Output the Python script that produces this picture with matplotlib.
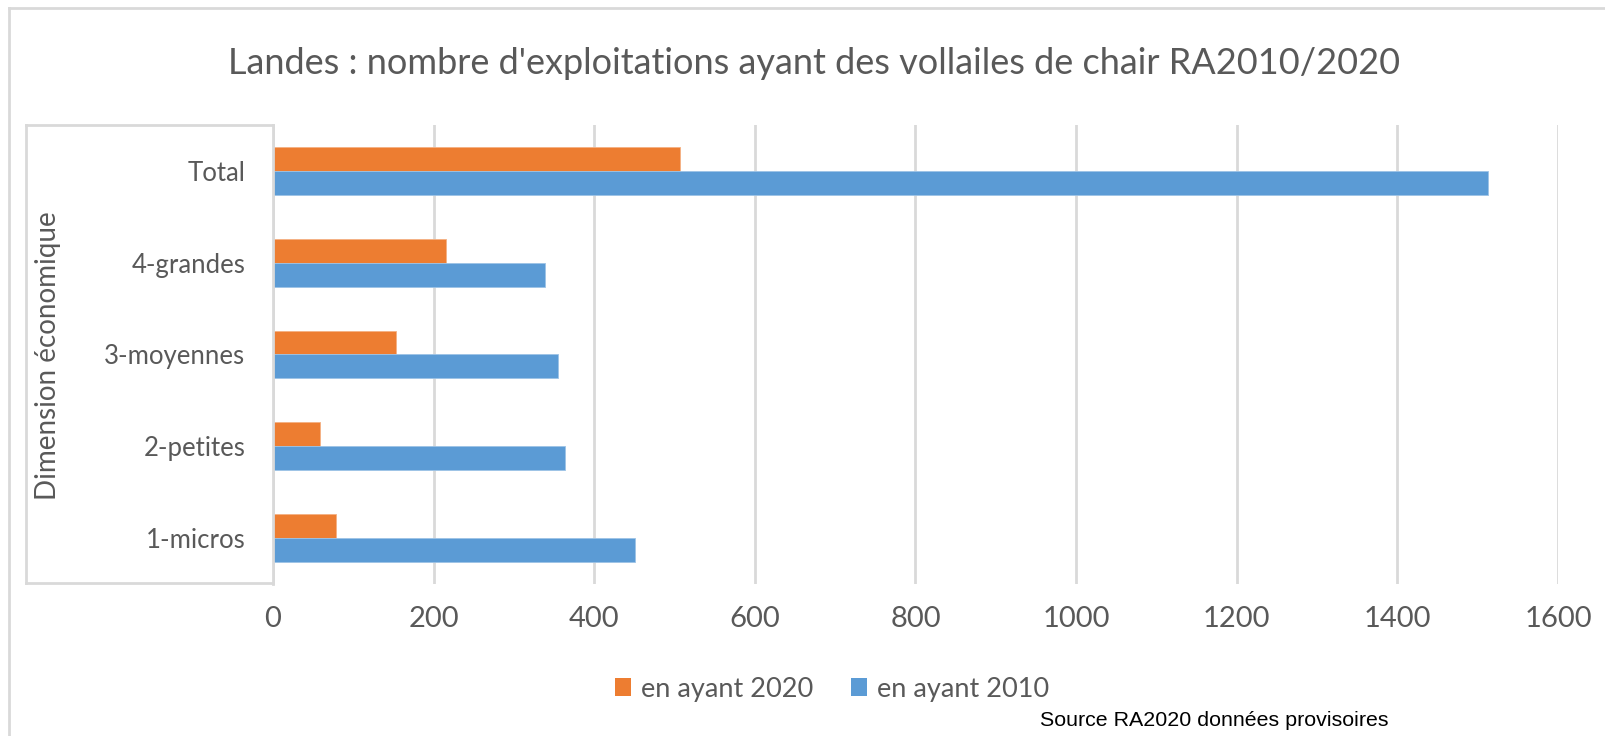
import numpy as np
import matplotlib
matplotlib.use('Agg')
import matplotlib.pyplot as plt
from matplotlib.lines import Line2D
from matplotlib.patches import Patch

categories = ['1-micros', '2-petites', '3-moyennes', '4-grandes', 'Total']
val_2020 = [78, 58, 153, 215, 507]
val_2010 = [451, 364, 355, 339, 1513]
xticks = [0, 200, 400, 600, 800, 1000, 1200, 1400, 1600]

W, H = 1606, 736
ORANGE = '#ED7D31'
BLUE = '#5B9BD5'
GRID = '#D9D9D9'
TXT = '#595959'
plt.rcParams['font.family'] = ['Lato', 'DejaVu Sans']


def fx(x):
    return x / W


def fy(y):
    return 1 - y / H


fig = plt.figure(figsize=(W / 100, H / 100), dpi=100, facecolor='w')
ax = fig.add_axes([fx(273), fy(584), fx(1558) - fx(273), fy(125) - fy(584)])

y = np.arange(len(categories))
h = 0.26
ax.barh(y + h / 2, val_2020, height=h, color=ORANGE, edgecolor='#F4B183', linewidth=0.6, zorder=3)
ax.barh(y - h / 2, val_2010, height=h, color=BLUE, edgecolor='#9DC3E6', linewidth=0.6, zorder=3)

ax.set_xlim(0, 1600)
ax.set_ylim(-0.5, len(categories) - 0.5)
ax.set_xticks(xticks)
ax.set_xticklabels([str(t) for t in xticks], fontsize=21, color=TXT)
ax.set_yticks(y)
ax.set_yticklabels(categories, fontsize=18.5, color=TXT)
ax.tick_params(axis='both', length=0)
ax.tick_params(axis='x', pad=16)
ax.tick_params(axis='y', pad=20)
ax.grid(axis='x', color=GRID, linewidth=2, zorder=0)
for s in ['top', 'right', 'bottom']:
    ax.spines[s].set_visible(False)
ax.spines['left'].set_color(GRID)
ax.spines['left'].set_linewidth(2)
ax.spines['left'].set_zorder(4)

# bracket around the category area
for xs, ys in [((26, 273), (125, 125)), ((26, 273), (583, 583)), ((26, 26), (125, 583))]:
    fig.add_artist(Line2D([fx(xs[0]), fx(xs[1])], [fy(ys[0]), fy(ys[1])],
                          color=GRID, linewidth=2, transform=fig.transFigure))
# outer chart frame
for xs, ys in [((9, 1606), (8, 8)), ((9, 9), (8, 736))]:
    fig.add_artist(Line2D([fx(xs[0]), fx(xs[1])], [fy(ys[0]), fy(ys[1])],
                          color=GRID, linewidth=2, transform=fig.transFigure))

fig.text(fx(48), fy(356), 'Dimension économique', rotation=90, fontsize=20,
         color=TXT, ha='center', va='center')
fig.text(fx(814), fy(63), "Landes : nombre d'exploitations ayant des vollailes de chair RA2010/2020",
         fontsize=26, color=TXT, ha='center', va='center')

handles = [Patch(facecolor=ORANGE), Patch(facecolor=BLUE)]
fig.legend(handles, ['en ayant 2020', 'en ayant 2010'], loc='center',
           bbox_to_anchor=(fx(832), fy(689)), ncol=2, frameon=False, fontsize=19.5,
           handlelength=0.6, handleheight=0.6, handletextpad=0.35, columnspacing=1.4,
           labelcolor=TXT)

fig.text(fx(1040), fy(720), 'Source RA2020 données provisoires', fontsize=15.4,
         family=['Liberation Sans', 'DejaVu Sans'], color='black', ha='left', va='center')

fig.savefig('out.png', dpi=100, facecolor='w')
